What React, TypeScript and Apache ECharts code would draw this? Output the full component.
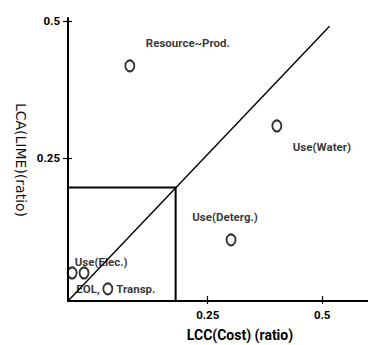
import React, { useEffect, useRef } from "react";
import * as echarts from "echarts";

// Processes compared on cost (x) and environmental load (y)
const processNames = ["Resource~Prod.", "Use(Water)", "Use(Deterg.)", "Use(Elec.)", "EOL,", "Transp."];
const costRatio = [0.08, 0.401, 0.301, -0.046, -0.02, 0.032];
const limeRatio = [0.418, 0.309, 0.102, 0.042, 0.042, 0.013];

// Axis ranges and the tick values that carry labels
const xRange = [-0.055, 0.6];
const yRange = [-0.009, 0.505];
const tickValues = [0.25, 0.5];

// Reference diagonal and the small threshold box at the origin
const diagonal = [
  [-0.055, -0.009],
  [0.516, 0.49],
];
const thresholdBox = [
  [-0.055, 0.197],
  [0.18, 0.197],
  [0.18, -0.009],
];

// Label offsets (px) from each marker centre
const labelOffsets: Record<string, [number, number]> = {
  "Resource~Prod.": [58, -23],
  "Use(Water)": [45, 21],
  "Use(Deterg.)": [-6, -23],
  "Use(Elec.)": [29, -11],
  "EOL,": [4, 16],
  "Transp.": [28, 0],
};

const LABEL_FONT = "Roboto, 'Liberation Sans', Arial, sans-serif";

export default function App() {
  const ref = useRef<HTMLDivElement>(null);

  useEffect(() => {
    if (!ref.current) return;
    const chart = echarts.init(ref.current, null, { renderer: "svg" });

    const tickLabel = {
      fontFamily: LABEL_FONT,
      fontWeight: "bold" as const,
      fontSize: 11.5,
      color: "#000",
    };

    const points = processNames.map((name, i) => ({
      name,
      value: [costRatio[i], limeRatio[i]],
      label: {
        show: true,
        position: "inside" as const,
        offset: labelOffsets[name],
        formatter: name,
      },
    }));

    const tickLine = { color: "#000", width: 1.2 };

    chart.setOption({
      animation: false,
      backgroundColor: "#fff",
      grid: { left: 68, right: 0, top: 18, bottom: 44 },
      xAxis: [
        {
          type: "value",
          position: "bottom",
          min: xRange[0],
          max: xRange[1],
          splitLine: { show: false },
          axisLine: { show: true, onZero: false, lineStyle: { color: "#000", width: 2 } },
          axisTick: { show: true, inside: false, length: 3, customValues: tickValues, lineStyle: tickLine },
          axisLabel: { show: true, customValues: tickValues, margin: 8, ...tickLabel },
        },
        {
          type: "value",
          position: "bottom",
          min: xRange[0],
          max: xRange[1],
          splitLine: { show: false },
          axisLine: { show: false, onZero: false },
          axisTick: { show: true, inside: true, length: 5, customValues: tickValues, lineStyle: tickLine },
          axisLabel: { show: false },
        },
      ],
      yAxis: [
        {
          type: "value",
          position: "left",
          min: yRange[0],
          max: yRange[1],
          splitLine: { show: false },
          axisLine: { show: true, onZero: false, lineStyle: { color: "#000", width: 2 } },
          axisTick: { show: true, inside: false, length: 5, customValues: tickValues, lineStyle: tickLine },
          axisLabel: { show: true, customValues: tickValues, margin: 8, ...tickLabel },
        },
        {
          type: "value",
          position: "left",
          min: yRange[0],
          max: yRange[1],
          splitLine: { show: false },
          axisLine: { show: false, onZero: false },
          axisTick: { show: true, inside: true, length: 4, customValues: tickValues, lineStyle: tickLine },
          axisLabel: { show: false },
        },
      ],
      graphic: [
        {
          type: "text",
          x: 240,
          y: 335,
          style: {
            text: "LCC(Cost) (ratio)",
            fontFamily: LABEL_FONT,
            fontWeight: "bold",
            fontSize: 14,
            fill: "#000",
            align: "center",
            verticalAlign: "middle",
          },
        },
        {
          type: "text",
          x: 21,
          y: 160,
          rotation: -Math.PI / 2,
          style: {
            text: "LCA(LIME)(ratio)",
            fontFamily: "'DejaVu Sans', sans-serif",
            fontSize: 14,
            fill: "#111",
            align: "center",
            verticalAlign: "middle",
          },
        },
      ],
      series: [
        {
          type: "line",
          data: diagonal,
          symbol: "none",
          lineStyle: { color: "#000", width: 1.4 },
          z: 2,
        },
        {
          type: "line",
          data: thresholdBox,
          symbol: "none",
          lineStyle: { color: "#000", width: 2 },
          z: 2,
        },
        {
          type: "scatter",
          data: points,
          symbol: "circle",
          symbolSize: [9, 11],
          itemStyle: { color: "rgba(255,255,255,0)", borderColor: "#000", borderWidth: 2 },
          label: {
            color: "#000",
            fontFamily: LABEL_FONT,
            fontWeight: "bold",
            fontSize: 11.5,
            align: "center",
            verticalAlign: "middle",
          },
          z: 3,
        },
      ],
    });

    return () => chart.dispose();
  }, []);

  return (
    <div
      ref={ref}
      style={{ position: "fixed", left: 0, top: 0, width: 368, height: 345 }}
    />
  );
}
